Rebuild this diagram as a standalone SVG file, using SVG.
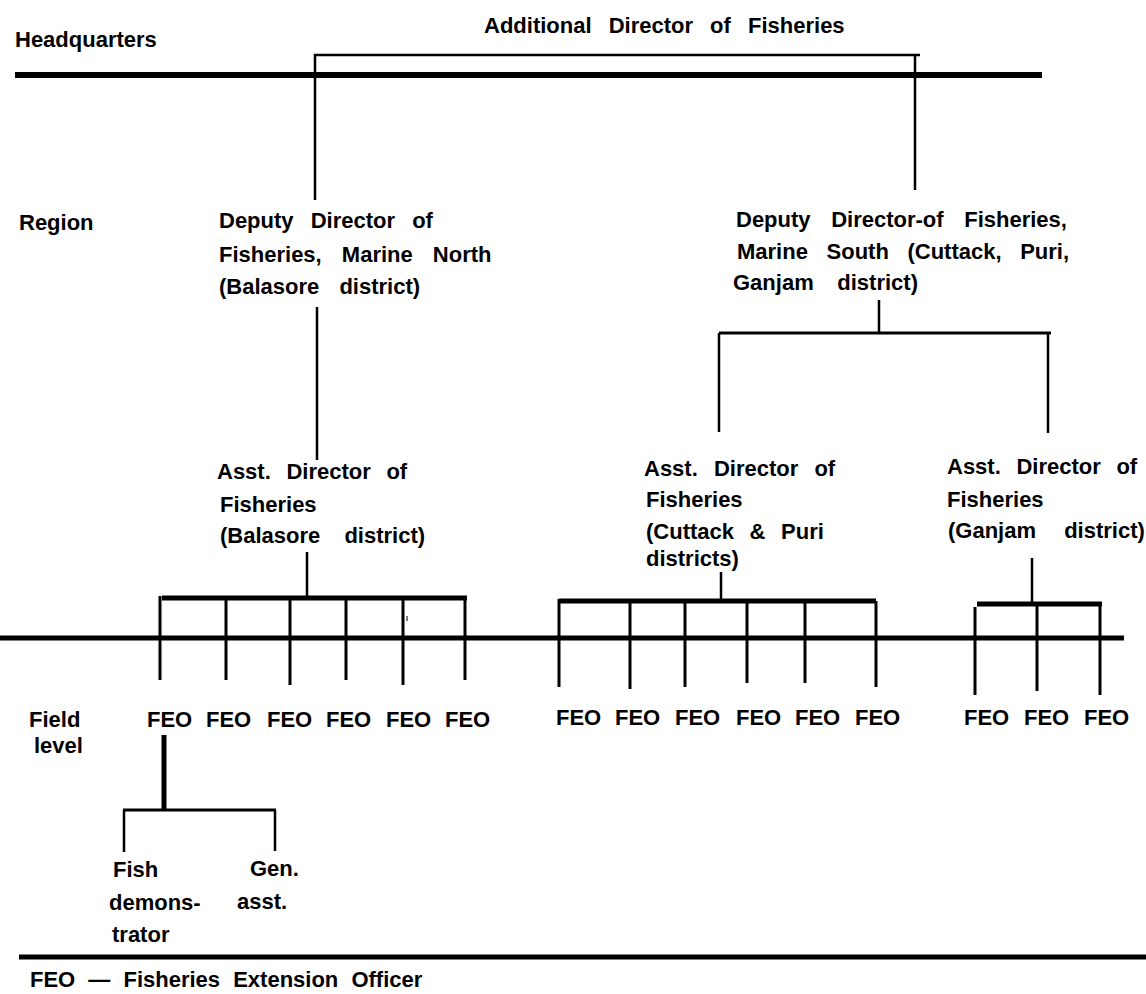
<svg xmlns="http://www.w3.org/2000/svg" width="1146" height="994" viewBox="0 0 1146 994">
<style>
.t{font-family:"Liberation Sans",Arial,Helvetica,sans-serif;font-weight:bold;font-size:22px;fill:#000}
.l1{stroke:#000;stroke-width:2.5;fill:none}
.l2{stroke:#000;stroke-width:3;fill:none}
.l3{stroke:#000;stroke-width:5;fill:none}
.l4{stroke:#000;stroke-width:6;fill:none}
</style>
<rect width="1146" height="994" fill="#fff"/>
<g id="connectors">
<line class="l4" x1="15" y1="75" x2="1042" y2="75"/>
<polyline class="l1" points="315,200 315,55 920,55"/>
<line class="l1" x1="915" y1="55" x2="915" y2="190"/>
<line class="l1" x1="317" y1="307" x2="317" y2="460"/>
<line class="l1" x1="307" y1="552" x2="307" y2="596"/>
<line class="l3" x1="162" y1="598" x2="467" y2="598"/>
<line class="l2" x1="160" y1="596" x2="160" y2="680"/>
<line class="l2" x1="226" y1="598" x2="226" y2="680"/>
<line class="l2" x1="290" y1="598" x2="290" y2="685"/>
<line class="l2" x1="346" y1="598" x2="346" y2="680"/>
<line class="l2" x1="403" y1="598" x2="403" y2="685"/>
<line class="l2" x1="465" y1="598" x2="465" y2="680"/>
<line stroke="#000" stroke-width="1" x1="407" y1="616" x2="407" y2="621"/>
<line class="l1" x1="879" y1="300" x2="879" y2="333"/>
<line class="l2" x1="719" y1="333" x2="1051" y2="333"/>
<line class="l1" x1="719" y1="333" x2="719" y2="432"/>
<line class="l1" x1="1048" y1="333" x2="1048" y2="433"/>
<line class="l1" x1="721" y1="572" x2="721" y2="599"/>
<line class="l3" x1="559" y1="601" x2="876" y2="601"/>
<line class="l2" x1="559" y1="599" x2="559" y2="687"/>
<line class="l2" x1="630" y1="601" x2="630" y2="689"/>
<line class="l2" x1="685" y1="601" x2="685" y2="687"/>
<line class="l2" x1="747" y1="601" x2="747" y2="683"/>
<line class="l2" x1="805" y1="601" x2="805" y2="683"/>
<line class="l2" x1="876" y1="601" x2="876" y2="687"/>
<line class="l1" x1="1032" y1="558" x2="1032" y2="602"/>
<line class="l3" x1="977" y1="604" x2="1102" y2="604"/>
<line class="l2" x1="975" y1="607" x2="975" y2="695"/>
<line class="l2" x1="1037" y1="604" x2="1037" y2="691"/>
<line class="l2" x1="1100" y1="604" x2="1100" y2="695"/>
<line class="l3" x1="0" y1="638" x2="1124" y2="638"/>
<line class="l3" x1="164" y1="735" x2="164" y2="810"/>
<line class="l2" x1="123" y1="810" x2="276" y2="810"/>
<line class="l1" x1="124" y1="810" x2="124" y2="852"/>
<line class="l1" x1="275" y1="810" x2="275" y2="851"/>
<line class="l3" x1="19" y1="957" x2="1146" y2="957"/>
</g>
<g id="labels">
<text class="t" x="15" y="47">Headquarters</text>
<text class="t" x="19" y="230">Region</text>
<text class="t" x="29" y="727">Field</text>
<text class="t" x="34" y="753">level</text>
</g>
<g id="additional-director">
<text class="t" x="484" y="33" word-spacing="11">Additional Director of Fisheries</text>
</g>
<g id="dd-north">
<text class="t" x="219" y="228" word-spacing="11">Deputy Director of</text>
<text class="t" x="219" y="262" word-spacing="14">Fisheries, Marine North</text>
<text class="t" x="219" y="294" word-spacing="14">(Balasore district)</text>
</g>
<g id="dd-south">
<text class="t" x="736" y="227" word-spacing="14.5">Deputy Director-of Fisheries,</text>
<text class="t" x="737" y="259" word-spacing="12.5">Marine South (Cuttack, Puri,</text>
<text class="t" x="733" y="290" word-spacing="17.5">Ganjam district)</text>
</g>
<g id="ad-balasore">
<text class="t" x="217" y="479" word-spacing="9.5">Asst. Director of</text>
<text class="t" x="220" y="512">Fisheries</text>
<text class="t" x="220" y="543" word-spacing="18">(Balasore district)</text>
</g>
<g id="ad-cuttack-puri">
<text class="t" x="644" y="476" word-spacing="10">Asst. Director of</text>
<text class="t" x="646" y="507">Fisheries</text>
<text class="t" x="646" y="539" word-spacing="9.5">(Cuttack &amp; Puri</text>
<text class="t" x="646" y="566">districts)</text>
</g>
<g id="ad-ganjam">
<text class="t" x="947" y="474" word-spacing="9.5">Asst. Director of</text>
<text class="t" x="947" y="507">Fisheries</text>
<text class="t" x="948" y="538" word-spacing="22">(Ganjam district)</text>
</g>
<g id="feo-balasore">
<text class="t" x="147" y="727">FEO</text>
<text class="t" x="206" y="727">FEO</text>
<text class="t" x="267" y="727">FEO</text>
<text class="t" x="326" y="727">FEO</text>
<text class="t" x="386" y="727">FEO</text>
<text class="t" x="445" y="727">FEO</text>
</g>
<g id="feo-cuttack-puri">
<text class="t" x="556" y="725">FEO</text>
<text class="t" x="615" y="725">FEO</text>
<text class="t" x="675" y="725">FEO</text>
<text class="t" x="736" y="725">FEO</text>
<text class="t" x="795" y="725">FEO</text>
<text class="t" x="855" y="725">FEO</text>
</g>
<g id="feo-ganjam">
<text class="t" x="964" y="725">FEO</text>
<text class="t" x="1024" y="725">FEO</text>
<text class="t" x="1084" y="725">FEO</text>
</g>
<g id="fish-demonstrator">
<text class="t" x="113" y="877">Fish</text>
<text class="t" x="109" y="910">demons-</text>
<text class="t" x="112" y="942">trator</text>
</g>
<g id="gen-asst">
<text class="t" x="250" y="876">Gen.</text>
<text class="t" x="237" y="909">asst.</text>
</g>
<g id="legend">
<text class="t" x="30" y="987" word-spacing="7">FEO — Fisheries Extension Officer</text>
</g>
</svg>
